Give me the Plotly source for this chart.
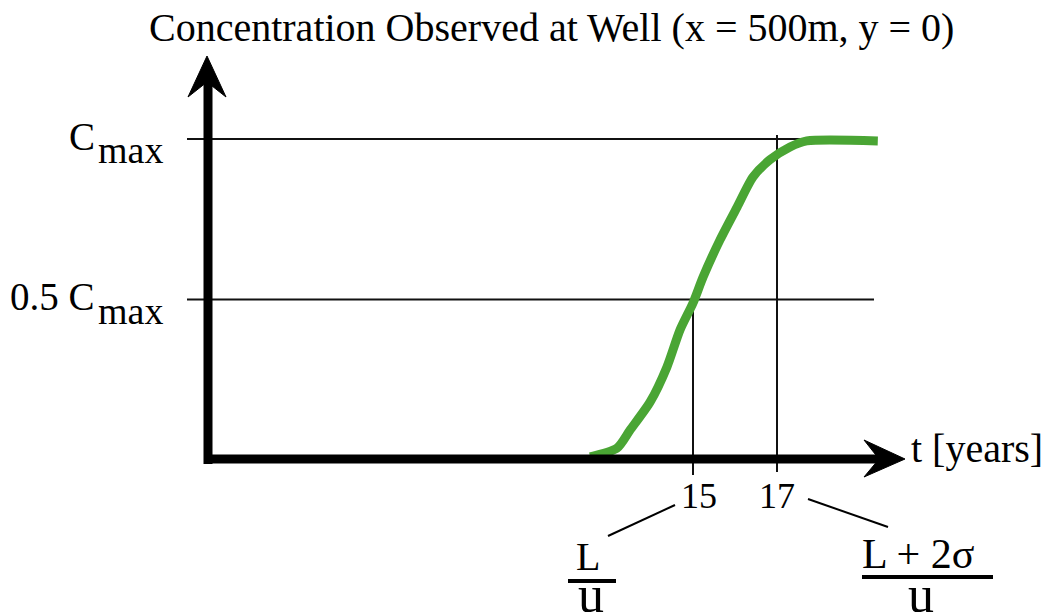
import plotly.graph_objects as go

# ---- data ----
t_years = [12.55, 13.19, 13.50, 13.98, 14.38, 14.69, 15.00, 15.24, 15.64, 16.05, 16.43, 16.83, 17.31, 17.71, 19.40]
conc = [0.010, 0.037, 0.093, 0.181, 0.290, 0.405, 0.489, 0.570, 0.685, 0.788, 0.882, 0.935, 0.975, 0.994, 0.994]
ref_levels = [1.0, 0.5]
ref_level_labels = [("C", "max"), ("0.5 C", "max")]
tick_vals = [15, 17]
tick_labels = ["15", "17"]
title_text = "Concentration Observed at Well (x = 500m, y = 0)"
xlabel_text = "t [years]"

W, H = 1051, 612
OFF = 8  # page body margin: figure starts 8px right/down in the page
PX15, PXPERYR = 693, 42.0
PY0, PYPERC = 460, 321.0
x_range = [15 + (OFF - PX15) / PXPERYR, 15 + (W + OFF - PX15) / PXPERYR]
y_range = [(PY0 - H - OFF) / PYPERC, (PY0 - OFF) / PYPERC]


def P(px):
    return (px - OFF) / W


def Q(py):
    return 1 - (py - OFF) / H


FONT = "Liberation Serif, Times New Roman, serif"
GREEN = "#4aa534"

fig = go.Figure()
fig.add_trace(go.Scatter(x=t_years, y=conc, mode="lines",
                         line=dict(color=GREEN, width=9, shape="spline", smoothing=0.7),
                         hoverinfo="skip", showlegend=False))

shapes = []
for lv in ref_levels:
    shapes.append(dict(type="line", xref="x", yref="y",
                       x0=15 + (187 - PX15) / PXPERYR, x1=15 + (874 - PX15) / PXPERYR,
                       y0=lv, y1=lv, line=dict(color="#111", width=2), layer="below"))
shapes.append(dict(type="line", xref="x", yref="y", x0=15, x1=15,
                   y0=0.5, y1=(PY0 - 475) / PYPERC, line=dict(color="#111", width=2), layer="below"))
shapes.append(dict(type="line", xref="x", yref="y", x0=17, x1=17,
                   y0=(PY0 - 135) / PYPERC, y1=(PY0 - 472) / PYPERC, line=dict(color="#111", width=2), layer="below"))
# axes shafts
shapes.append(dict(type="line", xref="paper", yref="paper", x0=P(208), x1=P(208),
                   y0=Q(464), y1=Q(80), line=dict(color="black", width=9)))
shapes.append(dict(type="line", xref="paper", yref="paper", x0=P(204), x1=P(882),
                   y0=Q(459), y1=Q(459), line=dict(color="black", width=9)))


def path(pts):
    return "M " + " L ".join(f"{P(x)},{Q(y)}" for x, y in pts) + " Z"


shapes.append(dict(type="path", xref="paper", yref="paper",
                   path=path([(207, 56), (226, 97), (207, 82), (188, 97)]),
                   fillcolor="black", line=dict(color="black", width=1)))
shapes.append(dict(type="path", xref="paper", yref="paper",
                   path=path([(905, 459), (864, 477), (879, 459), (864, 440)]),
                   fillcolor="black", line=dict(color="black", width=1)))
shapes.append(dict(type="line", xref="paper", yref="paper", x0=P(608), y0=Q(536), x1=P(675), y1=Q(505),
                   line=dict(color="black", width=2)))
shapes.append(dict(type="line", xref="paper", yref="paper", x0=P(808), y0=Q(499), x1=P(888), y1=Q(527),
                   line=dict(color="black", width=2)))
shapes.append(dict(type="line", xref="paper", yref="paper", x0=P(568), y0=Q(581), x1=P(616), y1=Q(581),
                   line=dict(color="black", width=4)))
shapes.append(dict(type="line", xref="paper", yref="paper", x0=P(862), y0=Q(577), x1=P(993), y1=Q(577),
                   line=dict(color="black", width=4)))

ann = []


def text(s, px, py, size=36, xanchor="center"):
    ann.append(dict(text=s, x=P(px), y=Q(py), xref="paper", yref="paper", showarrow=False,
                    xanchor=xanchor, yanchor="middle", font=dict(family=FONT, size=size, color="black")))


text(title_text, 551, 27, 40)
level_py = [PY0 - lv * PYPERC for lv in ref_levels]
for (main, sub), py in zip(ref_level_labels, level_py):
    text(main, 97, py - 3, 39, "right")
    text(sub, 96, py + 11, 38, "left")
for v, lab in zip(tick_vals, tick_labels):
    text(lab, PX15 + (v - 15) * PXPERYR + (6 if v == 15 else 0), 496, 36)
text(xlabel_text, 909, 448, 40, "left")
text("L", 588, 556, 40)
text("u", 591, 594, 52)
text("L + 2σ", 918, 554, 42)
text("u", 921, 594, 52)

fig.update_layout(width=W, height=H, margin=dict(l=0, r=0, t=0, b=0),
                  paper_bgcolor="white", plot_bgcolor="white",
                  xaxis=dict(range=x_range, visible=False, fixedrange=True),
                  yaxis=dict(range=y_range, visible=False, fixedrange=True),
                  shapes=shapes, annotations=ann, showlegend=False)
fig.write_html("out.html")
